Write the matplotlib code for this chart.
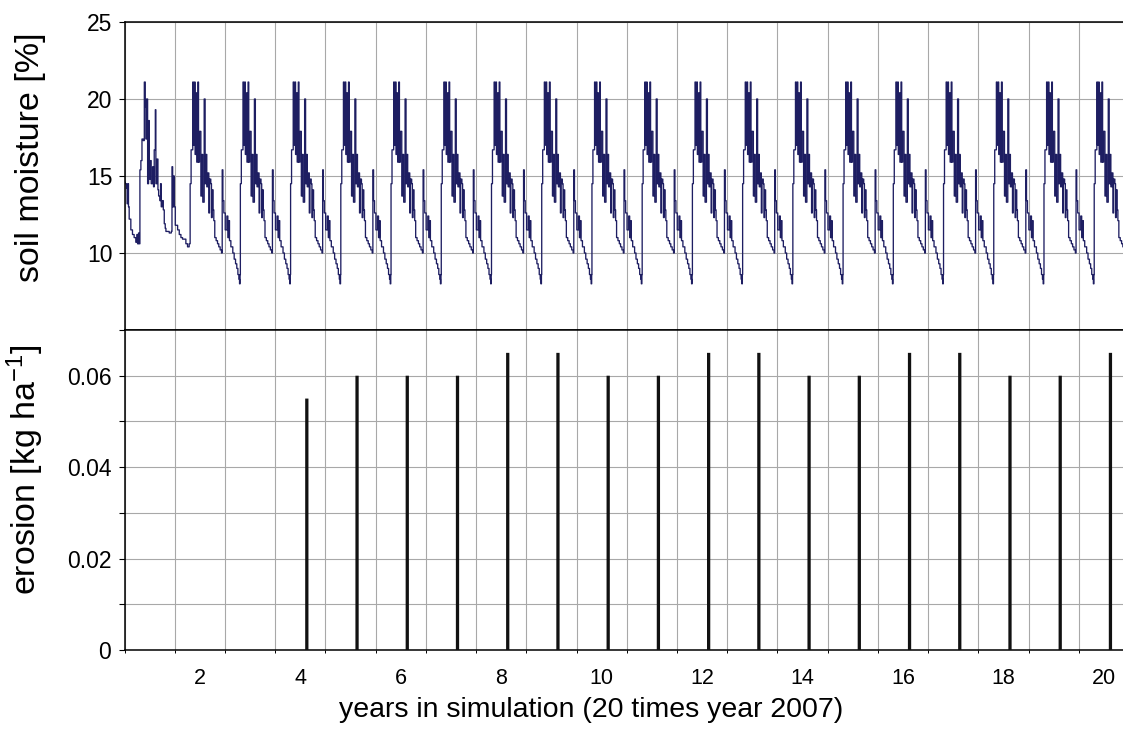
import matplotlib
matplotlib.use("Agg")
import matplotlib.pyplot as plt
import numpy as np
from matplotlib.ticker import FixedLocator

plt.rcParams['font.family'] = ['Liberation Sans', 'DejaVu Sans']
plt.rcParams['mathtext.fontset'] = 'custom'
plt.rcParams['mathtext.rm'] = 'Liberation Sans'
plt.rcParams['mathtext.it'] = 'Liberation Sans:italic'
plt.rcParams['mathtext.bf'] = 'Liberation Sans:bold'

# ---------------- data ----------------
# soil moisture, start of simulation until the first rise (days since start)
start_days = [0, 5, 15, 19, 24, 29, 34, 46, 58, 70, 82, 90, 95, 102, 107]
start_vals = [14.6, 14.5, 14.2, 13.2, 14.5, 13.0, 12.2, 11.5, 11.2, 11.0,
              10.7, 11.2, 10.6, 11.3, 10.6]
first_rise_day = 112

# first wet-season cycle (days since the rise)
cycle1_days = [0, 7, 15, 24, 32, 39, 44, 48, 56, 63, 68, 75, 82, 92, 99, 104,
               112, 116, 124, 131, 136, 145, 150, 155, 162, 170, 177, 184, 189,
               213, 228, 233, 238, 245, 250, 257, 274, 286, 298, 310, 322, 334,
               346, 358]
cycle1_vals = [15.4, 16.0, 17.4, 17.3, 21.1, 19.5, 17.4, 20.0, 14.5, 18.6, 14.8,
               16.0, 14.5, 15.6, 14.3, 16.7, 19.3, 14.5, 16.1, 14.1, 13.7, 13.4,
               14.5, 13.0, 13.4, 12.8, 11.9, 11.6, 11.4, 11.3, 11.4, 15.6, 13.0,
               15.0, 13.0, 11.8, 11.5, 11.2, 11.0, 10.9, 10.9, 10.6, 10.4, 10.6]

# typical yearly cycle of the repeated year 2007 (days since the rise)
cycle_days = [0, 7, 19, 24, 32, 36, 44, 48, 56, 61, 68, 78, 85, 92, 102, 109,
              116, 121, 129, 136, 141, 150, 155, 160, 167, 172, 179, 189, 199,
              208, 218, 228, 233, 238, 245, 255, 267, 274, 281, 286, 296, 310,
              320, 330, 339, 347, 354, 359, 363]
cycle_vals = [14.5, 16.7, 21.1, 17.0, 21.1, 16.4, 20.4, 15.9, 21.1, 15.9, 17.9,
              13.7, 16.4, 13.3, 20.0, 14.5, 16.4, 14.3, 15.2, 12.6, 14.8, 14.5,
              12.3, 14.1, 12.8, 12.1, 11.0, 10.8, 10.6, 10.4, 10.2, 10.0, 15.4,
              13.4, 12.6, 11.5, 12.4, 11.0, 12.1, 10.8, 10.4, 10.0, 9.6, 9.3,
              9.0, 8.6, 8.3, 8.0, 8.6]
n_years = 20
days_per_year = 365

# erosion events
erosion_years = [4, 5, 6, 7, 8, 9, 10, 11, 12, 13, 14, 15, 16, 17, 18, 19, 20]
erosion_vals = [0.055, 0.060, 0.060, 0.060, 0.065, 0.065, 0.060, 0.060, 0.065,
                0.065, 0.060, 0.060, 0.065, 0.065, 0.060, 0.060, 0.065]
event_offset = 0.13

x_ticks = [2, 4, 6, 8, 10, 12, 14, 16, 18, 20]

# ---------------- assemble series ----------------
t_days = list(start_days)
sm = list(start_vals)
t_days += [first_rise_day + d for d in cycle1_days]
sm += cycle1_vals
for k in range(1, n_years):
    t_days += [first_rise_day + days_per_year * k + d for d in cycle_days]
    sm += cycle_vals
t_years = 0.5 + np.array(t_days) / days_per_year

# ---------------- figure ----------------
W, H = 1123, 736
fig = plt.figure(figsize=(W / 100, H / 100), dpi=100)
left = 124.5 / W
ax1 = fig.add_axes([left, 1 - 330 / H, 1 - left, (330 - 22) / H])
ax2 = fig.add_axes([left, 1 - 650 / H, 1 - left, (650 - 330) / H])

line_color = '#1e1e62'
grid_color = '#a8a8a8'
xlim = (0.5, 20.38)
minor_x = np.arange(0.5, 21.0, 1.0)

for ax in (ax1, ax2):
    ax.set_xlim(*xlim)
    ax.set_axisbelow(True)
    ax.spines['right'].set_visible(False)
    for s in ('top', 'bottom', 'left'):
        ax.spines[s].set_linewidth(1.1)
        ax.spines[s].set_color('black')
    ax.xaxis.set_minor_locator(FixedLocator(minor_x))
    ax.grid(which='minor', axis='x', color=grid_color, lw=0.8)

# top panel
ax1.plot(t_years, sm, color=line_color, lw=0.95, drawstyle='steps-post')
ax1.set_ylim(5, 25)
ax1.set_yticks([5, 10, 15, 20, 25])
ax1.set_yticklabels(['', '10', '15', '20', '25'])
ax1.grid(which='major', axis='y', color=grid_color, lw=0.8)
ax1.tick_params(axis='x', which='both', length=0, labelbottom=False)
ax1.set_xticks([])
ax1.tick_params(axis='y', direction='out', length=4.5, width=0.8,
                labelsize=16.5, pad=4)
ax1.set_ylabel('soil moisture [%]', fontsize=24.5)
ax1.yaxis.set_label_coords(-0.079, 0.56)

# bottom panel
bars = ax2.bar([y + event_offset for y in erosion_years], erosion_vals,
               width=0.065, color='#111111', linewidth=0, zorder=3)
for b in bars:
    b.set_snap(False)
ax2.set_ylim(0, 0.07)
ax2.yaxis.set_major_locator(FixedLocator([0, 0.02, 0.04, 0.06]))
ax2.set_yticklabels(['0', '0.02', '0.04', '0.06'])
ax2.yaxis.set_minor_locator(FixedLocator([0.01, 0.03, 0.05]))
ax2.grid(which='both', axis='y', color=grid_color, lw=0.8)
ax2.set_xticks(x_ticks)
ax2.set_xticklabels([str(v) for v in x_ticks])
ax2.tick_params(axis='x', which='major', length=0, labelsize=15.5, pad=13)
ax2.tick_params(axis='x', which='minor', direction='out', length=2.5, width=0.7)
ax2.tick_params(axis='y', which='both', direction='out', length=4.5, width=0.8,
                labelsize=16.5, pad=5)
ax2.set_ylabel('erosion [kg ha$^{\\mathregular{-1}}$]', fontsize=24.5)
ax2.yaxis.set_label_coords(-0.079, 0.565)
ax2.set_xlabel('years in simulation (20 times year 2007)', fontsize=20.5)
ax2.xaxis.set_label_coords(0.467, -0.148)

fig.savefig('out.png', dpi=100, facecolor='white')
